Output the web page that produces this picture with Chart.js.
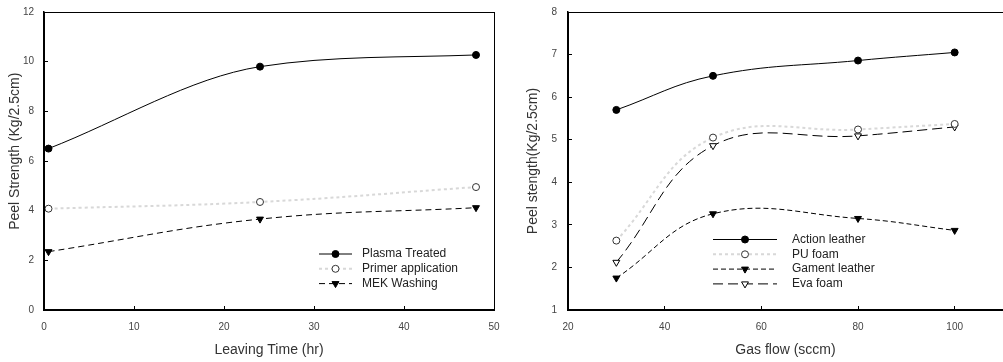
<!DOCTYPE html>
<html><head><meta charset="utf-8">
<script src="https://cdn.jsdelivr.net/npm/chart.js@4"></script>
<style>
html,body{margin:0;padding:0;background:#fff;overflow:hidden;width:1003px;height:362px;position:relative}
#l{position:absolute;left:0;top:0;width:500px;height:362px}
#r{position:absolute;left:500px;top:0;width:509px;height:362px}
</style></head><body>
<div id="l"><canvas id="cl"></canvas></div>
<div id="r"><canvas id="cr"></canvas></div>
<script>
// ---- Left chart data ----
const leavingTime = [0.5, 24, 48];
const plasmaTreated = [6.5, 9.8, 10.27];
const primerApplication = [4.08, 4.35, 4.95];
const mekWashing = [2.35, 3.66, 4.12];
const leftXTicks = [0, 10, 20, 30, 40, 50];
const leftYTicks = [0, 2, 4, 6, 8, 10, 12];

// ---- Right chart data ----
const gasFlow = [30, 50, 80, 100];
const actionLeather = [5.7, 6.5, 6.86, 7.05];
const puFoam = [2.63, 5.05, 5.24, 5.37];
const gamentLeather = [1.75, 3.26, 3.15, 2.87];
const evaFoam = [2.12, 4.86, 5.09, 5.3];
const rightXTicks = [20, 40, 60, 80, 100];
const rightYTicks = [1, 2, 3, 4, 5, 6, 7, 8];

Chart.defaults.font.family = '"Liberation Sans", Arial, sans-serif';
Chart.defaults.color = '#333';

const pts = (xs, ys) => xs.map((x, i) => ({x: x, y: ys[i]}));

const frame = {
  id: 'frame',
  afterDatasetsDraw(chart) {
    const a = chart.chartArea, ctx = chart.ctx;
    ctx.save();
    ctx.strokeStyle = '#000'; ctx.lineWidth = 1;
    ctx.strokeRect(Math.round(a.left) + 0.5, Math.round(a.top) + 0.5, a.right - a.left, a.bottom - a.top);
    ctx.restore();
  }
};

const insideLegend = {
  id: 'insideLegend',
  afterDraw(chart, args, o) {
    const ctx = chart.ctx;
    chart.data.datasets.forEach((ds, i) => {
      const y = o.y + i * o.rowH;
      ctx.save();
      ctx.strokeStyle = ds.borderColor; ctx.lineWidth = ds.borderWidth;
      ctx.setLineDash(ds.borderDash || []);
      ctx.beginPath(); ctx.moveTo(o.x0, y); ctx.lineTo(o.x1, y); ctx.stroke();
      ctx.setLineDash([]);
      ctx.fillStyle = ds.pointBackgroundColor; ctx.strokeStyle = ds.pointBorderColor;
      ctx.lineWidth = ds.pointBorderWidth || 1;
      Chart.helpers.drawPoint(ctx, {pointStyle: ds.pointStyle, rotation: ds.pointRotation || 0,
        radius: ds.pointRadius, borderWidth: ds.pointBorderWidth || 1}, (o.x0 + o.x1) / 2, y);
      ctx.fillStyle = '#222';
      ctx.font = '12px "Liberation Sans", Arial, sans-serif';
      ctx.textBaseline = 'middle'; ctx.textAlign = 'left';
      ctx.fillText(ds.label, o.tx, y);
      ctx.restore();
    });
  }
};

function styleSolid(label, data, mono) {
  const d = {label, data, borderColor: '#000', borderWidth: 1, pointStyle: 'circle', pointRadius: 3.5,
    pointBackgroundColor: '#000', pointBorderColor: '#000', pointBorderWidth: 1, tension: 0.4};
  if (mono) d.cubicInterpolationMode = 'monotone';
  return d;
}
function styleDotted(label, data) {
  return {label, data, borderColor: '#d8d8d8', borderWidth: 2, borderDash: [3, 3], pointStyle: 'circle', pointRadius: 3.5,
    pointBackgroundColor: '#fff', pointBorderColor: '#333', pointBorderWidth: 1, tension: 0.4};
}
function styleTri(label, data, dash, filled) {
  return {label, data, borderColor: '#000', borderWidth: 1, borderDash: dash, pointStyle: 'triangle', pointRotation: 180,
    pointRadius: 4, pointBackgroundColor: filled ? '#000' : '#fff', pointBorderColor: '#000', pointBorderWidth: 1, tension: 0.4};
}

function axis(min, max, tickVals, title, isX, titlePad, tickPad, size) {
  return {
    type: 'linear', min, max,
    afterBuildTicks: s => { s.ticks = tickVals.map(v => ({value: v})); },
    afterFit: s => {
      if (isX) s.height = size; else s.width = size;
      s.paddingTop = 0; s.paddingBottom = 0; s.paddingLeft = 0; s.paddingRight = 0;
    },
    grid: {drawOnChartArea: false, tickLength: -4, color: '#000', lineWidth: 1},
    border: {color: '#000', width: 1.5},
    ticks: {font: {size: 10}, color: '#444', padding: tickPad, maxRotation: 0, autoSkip: false},
    title: {display: true, text: title, font: {size: 14}, color: '#333', padding: titlePad}
  };
}

function makeChart(id, datasets, xs, ys, pad, legendOpts) {
  return new Chart(document.getElementById(id), {
    type: 'line',
    data: {datasets},
    options: {
      responsive: true, maintainAspectRatio: false, animation: false,
      layout: {padding: pad},
      plugins: {legend: {display: false}, tooltip: {enabled: false}, insideLegend: legendOpts},
      scales: {x: xs, y: ys}
    },
    plugins: [frame, insideLegend]
  });
}

makeChart('cl', [
  styleSolid('Plasma Treated', pts(leavingTime, plasmaTreated), true),
  styleDotted('Primer application', pts(leavingTime, primerApplication)),
  styleTri('MEK Washing', pts(leavingTime, mekWashing), [6, 4], true)
],
  axis(0, 50, leftXTicks, 'Leaving Time (hr)', true, {top: 0, bottom: 3}, 15, 52),
  axis(0, 12, leftYTicks, '     Peel Strength (Kg/2.5cm)', false, {top: 6.6, bottom: 0}, 14, 44),
  {left: 0, top: 12, right: 6, bottom: 0},
  {x0: 319, x1: 352, tx: 362, y: 254, rowH: 14.8}
);

makeChart('cr', [
  styleSolid('Action leather', pts(gasFlow, actionLeather), false),
  styleDotted('PU foam', pts(gasFlow, puFoam)),
  styleTri('Gament leather', pts(gasFlow, gamentLeather), [5, 3], true),
  styleTri('Eva foam', pts(gasFlow, evaFoam), [10, 5], false)
],
  axis(20, 110, rightXTicks, 'Gas flow (sccm)', true, {top: 0, bottom: 3}, 15, 52),
  axis(1, 8, rightYTicks, 'Peel stength(Kg/2.5cm)', false, {top: 24.6, bottom: 0}, 15, 68),
  {left: 0, top: 12, right: 6, bottom: 0},
  {x0: 213, x1: 277, tx: 292, y: 239.5, rowH: 14.8}
);
</script>
</body></html>
